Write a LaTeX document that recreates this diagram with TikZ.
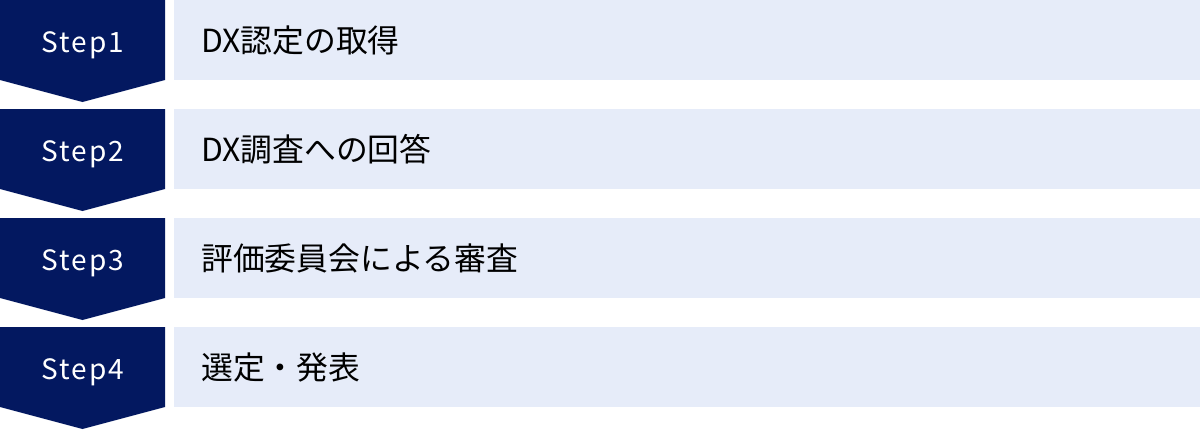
\documentclass[tikz,border=0pt]{standalone}
\usepackage{fontspec}
\setmainfont{Noto Sans CJK JP}
\newfontfamily\stepfont[LetterSpace=7]{Noto Sans CJK JP}
\definecolor{navy}{RGB}{3,24,96}
\definecolor{pale}{RGB}{230,236,249}
\begin{document}
\begin{tikzpicture}[x=1pt,y=-1pt,
  stepshape/.style={fill=navy},
  panel/.style={fill=pale},
  steplabel/.style={text=white,font=\stepfont\fontsize{28}{32}\selectfont,inner sep=0pt,anchor=base},
  itemlabel/.style={text=black,font=\fontsize{31.8}{36}\selectfont,inner sep=0pt,anchor=base west}]
\useasboundingbox (0,0) rectangle (1200,429);
\foreach \i/\lab/\txt in {0/Step1/DX認定の取得,1/Step2/DX調査への回答,2/Step3/評価委員会による審査,3/Step4/選定・発表}{
  \pgfmathsetmacro{\t}{\i*109}
  \fill[stepshape] (0,\t) -- (165,\t) -- (165,\t+80) -- (82.5,\t+102) -- (0,\t+80) -- cycle;
  \fill[panel] (174,\t) rectangle (1200,\t+80);
  \node[steplabel] (s\i) at (83,\t+52.5) {\lab};
  \node[itemlabel] (t\i) at (201,\t+52) {\txt};
}
\end{tikzpicture}
\end{document}
